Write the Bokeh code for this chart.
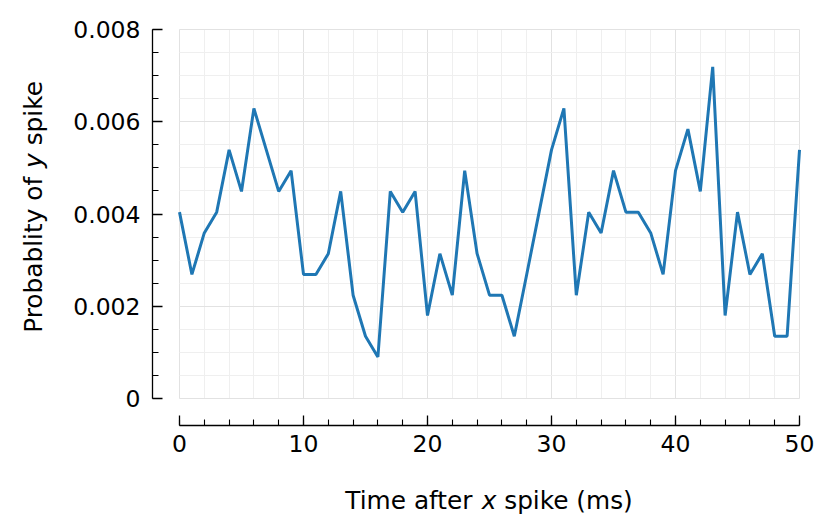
import math
from bokeh.plotting import figure
from bokeh.layouts import row, column
from bokeh.models import (Range1d, SingleIntervalTicker, CustomJSTickFormatter, Grid, Label, BoxAnnotation)
from bokeh.embed import file_html
from bokeh.resources import INLINE

# ---- data ----
time_ms = list(range(0, 51))
prob_y_spike = [
    0.00404, 0.00269, 0.00359, 0.00404, 0.00539, 0.00449, 0.00629, 0.00539, 0.00449, 0.00494,
    0.00269, 0.00269, 0.00314, 0.00449, 0.00224, 0.00135, 0.00090, 0.00449, 0.00404, 0.00449,
    0.00180, 0.00314, 0.00224, 0.00494, 0.00314, 0.00224, 0.00224, 0.00135, 0.00269, 0.00404,
    0.00539, 0.00629, 0.00224, 0.00404, 0.00359, 0.00494, 0.00404, 0.00404, 0.00359, 0.00269,
    0.00494, 0.00584, 0.00449, 0.00719, 0.00180, 0.00404, 0.00269, 0.00314, 0.00135, 0.00135,
    0.00539,
]
x_ticks_interval = 10
y_ticks_interval = 0.002
x_label_parts = ["Time after ", "x", " spike (ms)"]
y_label_parts = ["Probablity of ", "y", " spike"]

FONT = "DejaVu Sans"
TICK_SIZE = 23.5
LABEL_SIZE = 24.8

YLAB_W = 60
MAIN_W, MAIN_H = 767, 477
XLAB_H = 45

p = figure(width=MAIN_W, height=MAIN_H, output_backend="svg", toolbar_location=None,
           x_range=Range1d(-2.177, 50.16), y_range=Range1d(-0.000585, 0.0080434),
           min_border_left=92, min_border_right=26, min_border_top=27, min_border_bottom=52)
p.outline_line_color = None
p.background_fill_color = "white"
p.border_fill_color = "white"

p.xgrid.visible = False
p.ygrid.visible = False

xt = SingleIntervalTicker(interval=x_ticks_interval, num_minor_ticks=5)
yt = SingleIntervalTicker(interval=y_ticks_interval, num_minor_ticks=4)

has_cross = "cross_bounds" in Grid.properties()
gx_kw = dict(dimension=0, ticker=xt, bounds=(0, 50),
             grid_line_color="#e2e2e2", grid_line_width=1,
             minor_grid_line_color="#efefef", minor_grid_line_width=1, level="underlay")
gy_kw = dict(dimension=1, ticker=yt, bounds=(0, 0.008),
             grid_line_color="#e2e2e2", grid_line_width=1,
             minor_grid_line_color="#efefef", minor_grid_line_width=1, level="underlay")
if has_cross:
    gx_kw["cross_bounds"] = (0, 0.008)
    gy_kw["cross_bounds"] = (0, 50)
p.add_layout(Grid(**gx_kw), "center")
p.add_layout(Grid(**gy_kw), "center")
if not has_cross:
    p.add_layout(BoxAnnotation(right=-0.1, fill_color="white", fill_alpha=1, line_alpha=0, level="underlay"))
    p.add_layout(BoxAnnotation(top=-0.00002, fill_color="white", fill_alpha=1, line_alpha=0, level="underlay"))

p.line(time_ms, prob_y_spike, line_color="#1f77b4", line_width=3.0)

for ax in (p.xaxis[0], p.yaxis[0]):
    ax.axis_line_color = "black"
    ax.axis_line_width = 1.3
    ax.major_tick_line_color = "black"
    ax.major_tick_line_width = 1.3
    ax.minor_tick_line_color = "black"
    ax.minor_tick_line_width = 1.1
    ax.major_tick_in = 10
    ax.major_tick_out = 0
    ax.minor_tick_in = 6
    ax.minor_tick_out = 0
    ax.major_label_text_font = FONT
    ax.major_label_text_font_size = f"{TICK_SIZE}px"
    ax.major_label_text_color = "black"

p.xaxis[0].ticker = xt
p.xaxis[0].bounds = (0, 50)
p.xaxis[0].major_label_standoff = 9
p.yaxis[0].ticker = yt
p.yaxis[0].bounds = (0, 0.008)
p.yaxis[0].major_label_standoff = 12
p.yaxis[0].formatter = CustomJSTickFormatter(code="return Math.abs(tick) < 1e-12 ? '0' : tick.toFixed(3);")
p.xaxis[0].formatter = CustomJSTickFormatter(code="return tick.toFixed(0);")

# ---- label strips (separate figures so text is not clipped) ----
def strip(w, h):
    f = figure(width=w, height=h, output_backend="svg", toolbar_location=None,
               x_range=Range1d(0, w), y_range=Range1d(0, h),
               x_axis_type=None, y_axis_type=None, min_border=0)
    f.outline_line_color = None
    f.xgrid.visible = False
    f.ygrid.visible = False
    f.border_fill_color = "white"
    f.background_fill_color = "white"
    return f

em = LABEL_SIZE
SP = 0.318 * em
w_pre_x, w_var_x, w_tot_x = 5.497 * em, 0.592 * em, 11.628 * em
w_pre_y, w_var_y, w_tot_y = 6.649 * em, 0.592 * em, 10.187 * em

ylab = strip(YLAB_W, MAIN_H)
offs_y = [-w_tot_y / 2, -w_tot_y / 2 + w_pre_y, -w_tot_y / 2 + w_pre_y + w_var_y + SP]
for part, off in zip(y_label_parts, offs_y):
    ylab.add_layout(Label(x=33, y=MAIN_H - 214.5, y_offset=off, text=part.strip(), text_font=FONT,
                          text_font_size=f"{LABEL_SIZE}px", text_color="black",
                          text_align="left", text_baseline="middle", angle=math.pi / 2,
                          text_font_style="italic" if part == "y" else "normal"))

xlab = strip(YLAB_W + MAIN_W, XLAB_H)
offs_x = [-w_tot_x / 2, -w_tot_x / 2 + w_pre_x, -w_tot_x / 2 + w_pre_x + w_var_x + SP]
for part, off in zip(x_label_parts, offs_x):
    xlab.add_layout(Label(x=489, y=XLAB_H - 23, x_offset=off, text=part.strip(), text_font=FONT,
                          text_font_size=f"{LABEL_SIZE}px", text_color="black",
                          text_align="left", text_baseline="alphabetic",
                          text_font_style="italic" if part == "x" else "normal"))

layout = column(row(ylab, p), xlab)
open("out.html", "w").write(file_html(layout, INLINE))
